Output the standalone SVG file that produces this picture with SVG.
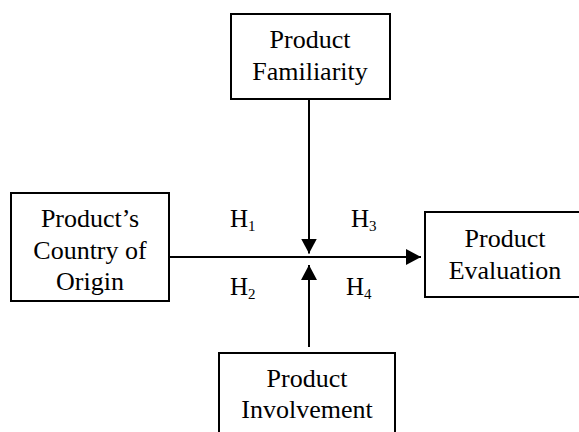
<svg xmlns="http://www.w3.org/2000/svg" width="579" height="432" viewBox="0 0 579 432">
<style>
.box{fill:#fff;stroke:#000;stroke-width:2}
.t{font-size:26px;fill:#000;text-anchor:middle}
.h{font-size:25px;fill:#000}
.sub{font-size:15px}
.ln{stroke:#000;stroke-width:2;fill:none}
</style>
<defs>
<marker id="ah" viewBox="0 0 15 16" refX="15" refY="8" markerWidth="15" markerHeight="16" markerUnits="userSpaceOnUse" orient="auto">
<path d="M0,0 L15,8 L0,16 Z" fill="#000"/>
</marker>
</defs>
<rect width="579" height="432" fill="#fff"/>
<g id="connectors">
<line class="ln" x1="170" y1="257" x2="421" y2="257" marker-end="url(#ah)"/>
<line class="ln" x1="309" y1="99" x2="309" y2="253.5" marker-end="url(#ah)"/>
<line class="ln" x1="309" y1="347" x2="309" y2="265" marker-end="url(#ah)"/>
</g>
<g font-family="'Liberation Serif', 'Times New Roman', serif">
<g id="familiarity">
<rect class="box" x="231" y="14" width="159" height="85"/>
<text class="t" x="310" y="48">Product</text>
<text class="t" x="310" y="80">Familiarity</text>
</g>
<g id="origin">
<rect class="box" x="11" y="193" width="158" height="108"/>
<text class="t" x="90" y="227">Product’s</text>
<text class="t" x="90" y="259">Country of</text>
<text class="t" x="90" y="290">Origin</text>
</g>
<g id="evaluation">
<rect class="box" x="425" y="212" width="162" height="85"/>
<text class="t" x="505" y="247">Product</text>
<text class="t" x="505" y="279">Evaluation</text>
</g>
<g id="involvement">
<rect class="box" x="219" y="353" width="176" height="90"/>
<text class="t" x="307" y="387">Product</text>
<text class="t" x="307" y="418">Involvement</text>
</g>
<g id="labels">
<text class="h" x="230" y="227">H<tspan class="sub" dy="4">1</tspan></text>
<text class="h" x="351" y="227">H<tspan class="sub" dy="4">3</tspan></text>
<text class="h" x="230" y="295">H<tspan class="sub" dy="4">2</tspan></text>
<text class="h" x="346" y="295">H<tspan class="sub" dy="4">4</tspan></text>
</g>
</g>
</svg>
